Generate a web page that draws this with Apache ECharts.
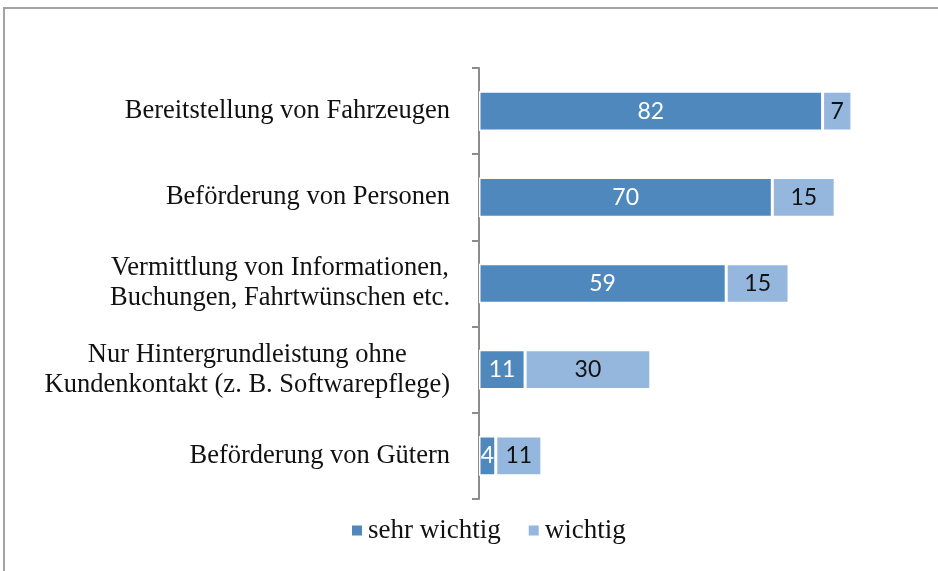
<!DOCTYPE html>
<html>
<head>
<meta charset="utf-8">
<script src="https://cdn.jsdelivr.net/npm/echarts@6/dist/echarts.min.js"></script>
<style>
  html, body { margin: 0; padding: 0; background: #fff; }
  #chart { width: 938px; height: 571px; }
  /* grauer Rahmen oben/links wie im Original */
  #frame {
    position: absolute; left: 3px; top: 7px; width: 950px; height: 580px;
    border-top: 2px solid #a3a3a3; border-left: 2px solid #a3a3a3;
    pointer-events: none;
  }
</style>
</head>
<body>
<div id="chart"></div>
<div id="frame"></div>
<script>
// Kategorien (von oben nach unten)
const categories = [
  'Bereitstellung von Fahrzeugen',
  'Beförderung von Personen',
  'Vermittlung von Informationen,\nBuchungen, Fahrtwünschen etc.',
  'Nur Hintergrundleistung ohne\nKundenkontakt (z. B. Softwarepflege)',
  'Beförderung von Gütern'
]
const sehrWichtig = [82, 70, 59, 11, 4]
const wichtig = [7, 15, 15, 30, 11]

const serif = '"Liberation Serif", "Times New Roman", serif'
const sans = 'Lato, "Open Sans", sans-serif'

const chart = echarts.init(document.getElementById('chart'))

chart.setOption({
  animation: false,
  legend: {
    data: ['sehr wichtig', 'wichtig'],
    bottom: 22,
    left: 345,
    itemWidth: 12,
    itemHeight: 12,
    itemGap: 26,
    icon: 'rect',
    textStyle: { fontFamily: serif, fontSize: 27, color: '#111' }
  },
  grid: { left: 479, right: 40, top: 68, bottom: 72 },
  xAxis: { type: 'value', min: 0, max: 100, show: false },
  yAxis: {
    type: 'category',
    inverse: true,
    data: categories,
    axisLine: { lineStyle: { color: '#8c8c8c', width: 2 } },
    axisTick: { show: true, length: 7, lineStyle: { color: '#8c8c8c', width: 2 } },
    axisLabel: {
      margin: 29,
      // mehrzeilige Beschriftung zentriert im Block
      formatter: (v) => v.split('\n').map(s => '{c|' + s + '}').join('\n'),
      rich: {
        c: { fontFamily: serif, fontSize: 26.5, color: '#111', align: 'center', lineHeight: 30 }
      }
    }
  },
  series: [
    {
      name: 'sehr wichtig',
      type: 'bar',
      stack: 'total',
      barWidth: '46%',
      data: sehrWichtig,
      itemStyle: { color: '#4f88bd', borderColor: '#fff', borderWidth: 1.5 },
      label: { show: true, position: 'inside', color: '#fff', fontFamily: sans, fontSize: 23 }
    },
    {
      name: 'wichtig',
      type: 'bar',
      stack: 'total',
      data: wichtig,
      itemStyle: { color: '#95b7de', borderColor: '#fff', borderWidth: 1.5 },
      label: { show: true, position: 'inside', color: '#111', fontFamily: sans, fontSize: 23 }
    }
  ]
})
</script>
</body>
</html>
